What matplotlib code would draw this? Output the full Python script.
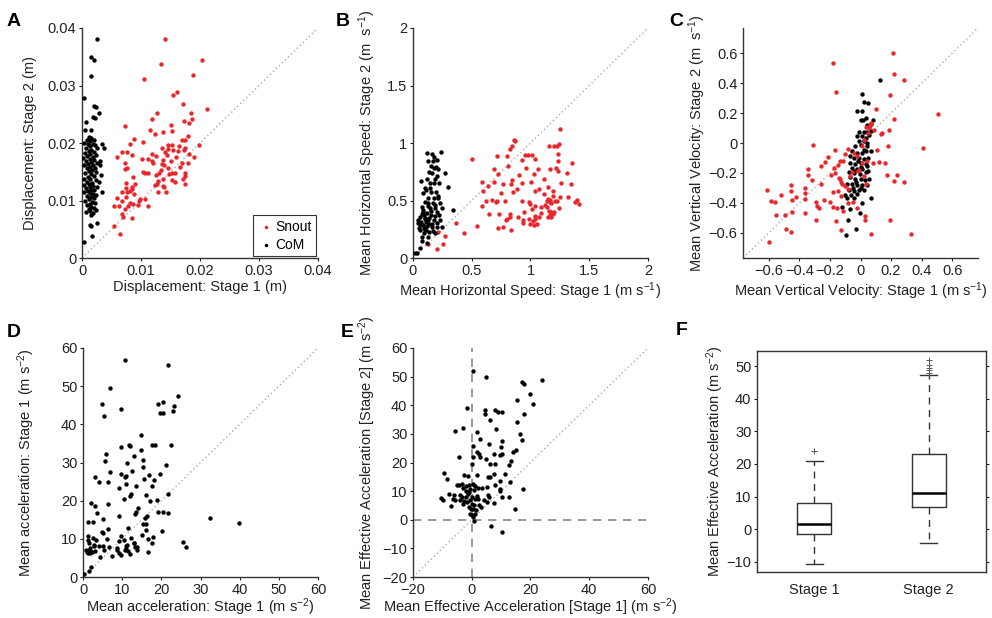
import numpy as np
import matplotlib
matplotlib.use("Agg")
import matplotlib.pyplot as plt

plt.rcParams['font.family'] = ['Liberation Sans', 'DejaVu Sans']
plt.rcParams['mathtext.fontset'] = 'custom'
plt.rcParams['mathtext.rm'] = 'Liberation Sans'
plt.rcParams['mathtext.it'] = 'Liberation Sans'
plt.rcParams['axes.unicode_minus'] = True

RED = '#e8262b'
INK = '#222222'

# --- A: displacement (m) ---
snout_disp1 = [0.0141, 0.0134, 0.0203, 0.0105, 0.0188, 0.0161, 0.0154, 0.0212, 0.0171, 0.0127,
               0.0184, 0.0119, 0.0187, 0.0173, 0.0181, 0.0073, 0.0151, 0.0116, 0.0152, 0.0123,
               0.0138, 0.0180, 0.0170, 0.0175, 0.0088, 0.0104, 0.0199, 0.0081, 0.0145, 0.0153,
               0.0165, 0.0135, 0.0175, 0.0059, 0.0067, 0.0077, 0.0084, 0.0118, 0.0125, 0.0141,
               0.0144, 0.0154, 0.0162, 0.0173, 0.0181, 0.0189, 0.0073, 0.0101, 0.0111, 0.0120,
               0.0137, 0.0150, 0.0170, 0.0179, 0.0073, 0.0077, 0.0136, 0.0104, 0.0111, 0.0131,
               0.0139, 0.0146, 0.0152, 0.0158, 0.0174, 0.0175, 0.0086, 0.0125, 0.0148, 0.0171,
               0.0152, 0.0129, 0.0127, 0.0124, 0.0157, 0.0175, 0.0137, 0.0139, 0.0137, 0.0075,
               0.0089, 0.0075, 0.0085, 0.0085, 0.0068, 0.0077, 0.0081, 0.0088, 0.0129, 0.0142,
               0.0060, 0.0074, 0.0099, 0.0107, 0.0067, 0.0097, 0.0081, 0.0086, 0.0055, 0.0063,
               0.0095, 0.0111, 0.0078, 0.0073, 0.0068, 0.0069, 0.0085, 0.0055, 0.0064, 0.0146,
               0.0160, 0.0133, 0.0118, 0.0107, 0.0166]
snout_disp2 = [0.0380, 0.0338, 0.0344, 0.0311, 0.0318, 0.0289, 0.0284, 0.0260, 0.0267, 0.0252,
               0.0253, 0.0241, 0.0241, 0.0238, 0.0235, 0.0230, 0.0231, 0.0223, 0.0221, 0.0216,
               0.0219, 0.0213, 0.0206, 0.0206, 0.0207, 0.0201, 0.0197, 0.0198, 0.0197, 0.0196,
               0.0194, 0.0192, 0.0191, 0.0176, 0.0184, 0.0184, 0.0179, 0.0181, 0.0177, 0.0184,
               0.0180, 0.0187, 0.0186, 0.0188, 0.0181, 0.0175, 0.0165, 0.0173, 0.0172, 0.0166,
               0.0170, 0.0169, 0.0165, 0.0165, 0.0155, 0.0156, 0.0163, 0.0149, 0.0147, 0.0148,
               0.0161, 0.0156, 0.0148, 0.0148, 0.0148, 0.0143, 0.0141, 0.0144, 0.0146, 0.0138,
               0.0135, 0.0134, 0.0129, 0.0127, 0.0132, 0.0129, 0.0125, 0.0123, 0.0137, 0.0131,
               0.0129, 0.0122, 0.0124, 0.0120, 0.0115, 0.0114, 0.0117, 0.0112, 0.0115, 0.0115,
               0.0104, 0.0106, 0.0103, 0.0103, 0.0100, 0.0099, 0.0096, 0.0094, 0.0090, 0.0090,
               0.0093, 0.0090, 0.0090, 0.0085, 0.0077, 0.0071, 0.0070, 0.0055, 0.0042, 0.0189,
               0.0176, 0.0153, 0.0169, 0.0148, 0.0159]
com_disp1 = [0.0025, 0.0015, 0.0020, 0.0016, 0.0003, 0.0021, 0.0024, 0.0029, 0.0019, 0.0022,
             0.0006, 0.0005, 0.0015, 0.0034, 0.0037, 0.0030, 0.0031, 0.0032, 0.0029, 0.0034,
             0.0025, 0.0013, 0.0016, 0.0017, 0.0003,
             0.0012, 0.0016, 0.0020, 0.0008, 0.0014, 0.0004, 0.0010, 0.0018, 0.0022, 0.0013,
             0.0007, 0.0025, 0.0016, 0.0011, 0.0020, 0.0005, 0.0014, 0.0023, 0.0009, 0.0018,
             0.0002, 0.0013, 0.0021, 0.0007, 0.0016, 0.0026, 0.0010, 0.0019, 0.0004, 0.0014,
             0.0022, 0.0008, 0.0017, 0.0012, 0.0024, 0.0005, 0.0015, 0.0020, 0.0010, 0.0003,
             0.0014, 0.0023, 0.0008, 0.0017, 0.0011, 0.0004, 0.0019, 0.0014, 0.0026, 0.0007,
             0.0016, 0.0021, 0.0010, 0.0003, 0.0013, 0.0018, 0.0024, 0.0008, 0.0015, 0.0020,
             0.0011, 0.0005, 0.0017, 0.0022, 0.0013, 0.0009, 0.0016, 0.0020, 0.0011, 0.0024,
             0.0014, 0.0007, 0.0019, 0.0015]
com_disp2 = [0.0381, 0.0350, 0.0345, 0.0316, 0.0279, 0.0265, 0.0263, 0.0253, 0.0245, 0.0244,
             0.0236, 0.0222, 0.0222, 0.0198, 0.0192, 0.0169, 0.0162, 0.0145, 0.0133, 0.0115,
             0.0061, 0.0057, 0.0055, 0.0039, 0.0027,
             0.0210, 0.0208, 0.0206, 0.0205, 0.0203, 0.0200, 0.0198, 0.0199, 0.0196, 0.0194,
             0.0192, 0.0191, 0.0188, 0.0186, 0.0184, 0.0183, 0.0181, 0.0179, 0.0178, 0.0176,
             0.0174, 0.0173, 0.0171, 0.0169, 0.0167, 0.0166, 0.0164, 0.0162, 0.0161, 0.0159,
             0.0157, 0.0156, 0.0153, 0.0151, 0.0149, 0.0148, 0.0146, 0.0143, 0.0141, 0.0138,
             0.0137, 0.0135, 0.0133, 0.0131, 0.0129, 0.0127, 0.0126, 0.0124, 0.0123, 0.0121,
             0.0119, 0.0118, 0.0116, 0.0115, 0.0113, 0.0111, 0.0110, 0.0108, 0.0106, 0.0104,
             0.0102, 0.0100, 0.0098, 0.0096, 0.0094, 0.0092, 0.0089, 0.0087, 0.0085, 0.0084,
             0.0082, 0.0080, 0.0078, 0.0075]

# --- B: horizontal speed (m/s) ---
snout_hs1 = [1.248, 0.863, 0.871, 1.239, 1.222, 1.199, 0.826, 0.840, 0.713, 0.804, 0.951, 0.976,
             1.010, 1.236, 1.160, 0.506, 1.236, 0.925, 1.041, 1.355, 0.806, 0.687, 0.959, 1.064,
             1.163, 1.214, 1.231, 1.310, 0.900, 1.030, 0.724, 1.117, 1.001, 0.846, 0.585, 0.687,
             0.931, 1.259, 0.766, 0.835, 0.639, 0.594, 1.349, 1.146, 1.075, 1.194, 0.747, 0.849,
             0.886, 1.035, 1.112, 1.318, 1.253, 1.188, 1.168, 0.670, 0.719, 0.707, 0.781, 0.625,
             0.931, 0.985, 0.996, 1.151, 1.165, 1.171, 1.137, 1.205, 1.225, 1.398, 1.412, 1.375,
             1.038, 0.591, 1.245, 1.092, 1.123, 1.137, 0.736, 0.829, 0.948, 1.013, 1.092, 1.157,
             1.174, 1.188, 1.199, 1.168, 1.148, 1.177, 1.041, 1.072, 1.038, 0.648, 0.891, 0.829,
             0.801, 0.789, 0.939, 0.985, 1.018, 1.055, 0.999, 1.030, 0.934, 0.724, 0.770, 0.837,
             0.368, 0.549, 0.433, 0.269, 0.252, 0.130, 0.204, 0.212]
snout_hs2 = [1.125, 1.029, 1.015, 0.994, 0.971, 0.971, 0.951, 0.971, 0.884, 0.884, 0.899, 0.899,
             0.899, 0.904, 0.971, 0.861, 0.841, 0.855, 0.861, 0.826, 0.797, 0.774, 0.786, 0.774,
             0.774, 0.783, 0.754, 0.739, 0.725, 0.733, 0.731, 0.690, 0.658, 0.681, 0.658, 0.664,
             0.652, 0.652, 0.646, 0.644, 0.623, 0.580, 0.646, 0.620, 0.597, 0.583, 0.568, 0.577,
             0.597, 0.580, 0.554, 0.533, 0.533, 0.539, 0.507, 0.507, 0.499, 0.484, 0.499, 0.499,
             0.496, 0.484, 0.473, 0.510, 0.490, 0.478, 0.493, 0.496, 0.493, 0.507, 0.470, 0.487,
             0.455, 0.449, 0.435, 0.441, 0.464, 0.444, 0.383, 0.383, 0.400, 0.423, 0.389, 0.406,
             0.397, 0.383, 0.397, 0.377, 0.359, 0.357, 0.342, 0.357, 0.365, 0.383, 0.359, 0.357,
             0.336, 0.328, 0.333, 0.339, 0.319, 0.299, 0.299, 0.284, 0.304, 0.264, 0.272, 0.241,
             0.301, 0.281, 0.215, 0.194, 0.122, 0.122, 0.081, 0.226]
com_hs1 = [0.122, 0.162, 0.179, 0.235, 0.201, 0.130, 0.150, 0.176, 0.216, 0.133, 0.162, 0.272,
           0.201, 0.122, 0.145, 0.182, 0.065, 0.224, 0.295, 0.102, 0.156, 0.196, 0.088, 0.216,
           0.125, 0.179, 0.102, 0.130, 0.173, 0.230, 0.074, 0.145, 0.187, 0.244, 0.088, 0.116,
           0.150, 0.201, 0.224, 0.338, 0.060, 0.102, 0.130, 0.179, 0.230, 0.045, 0.082, 0.116,
           0.159, 0.201, 0.244, 0.060, 0.102, 0.139, 0.094, 0.187, 0.074, 0.130, 0.079, 0.116,
           0.060, 0.037, 0.014, 0.042, 0.070, 0.095, 0.110, 0.138, 0.165, 0.186, 0.083, 0.125,
           0.157, 0.063, 0.090, 0.115, 0.173, 0.208, 0.050, 0.140, 0.102, 0.075, 0.190, 0.215,
           0.145, 0.186, 0.110, 0.168, 0.200]
com_hs2 = [0.910, 0.904, 0.881, 0.925, 0.852, 0.846, 0.800, 0.783, 0.771, 0.751, 0.736, 0.736,
           0.713, 0.684, 0.655, 0.655, 0.673, 0.649, 0.620, 0.606, 0.577, 0.577, 0.562, 0.539,
           0.519, 0.519, 0.490, 0.475, 0.475, 0.475, 0.446, 0.432, 0.432, 0.432, 0.403, 0.388,
           0.374, 0.403, 0.374, 0.417, 0.359, 0.345, 0.330, 0.330, 0.330, 0.301, 0.287, 0.278,
           0.267, 0.267, 0.267, 0.244, 0.244, 0.229, 0.215, 0.220, 0.186, 0.180, 0.151, 0.128,
           0.084, 0.041, 0.046, 0.331, 0.316, 0.372, 0.310, 0.350, 0.300, 0.362, 0.420, 0.455,
           0.410, 0.287, 0.262, 0.246, 0.239, 0.303, 0.264, 0.292, 0.340, 0.380, 0.460, 0.520,
           0.610, 0.690, 0.590, 0.840, 0.790]

# --- C: vertical velocity (m/s) ---
snout_vv1 = [0.213, -0.182, 0.220, 0.288, -0.160, 0.193, 0.508, 0.099, 0.220, 0.189, 0.143, 0.132,
             0.088, 0.409, 0.178, 0.105, -0.312, -0.167, -0.213, -0.084, -0.099, 0.119, 0.081,
             0.158, -0.116, -0.136, -0.147, -0.233, -0.257, -0.171, -0.341, -0.341, -0.316,
             -0.257, -0.193, -0.165, -0.138, -0.127, -0.103, -0.081, -0.015, 0.026, 0.033, 0.176,
             0.240, 0.220, 0.288, -0.611, -0.589, -0.563, -0.521, -0.554, -0.492, -0.453, -0.453,
             -0.446, -0.446, -0.420, -0.365, -0.363, -0.363, -0.363, -0.488, -0.455, -0.602,
             -0.292, -0.286, -0.273, -0.292, -0.237, -0.200, -0.182, -0.147, -0.178, -0.152,
             -0.130, -0.116, -0.158, -0.130, -0.084, -0.048, -0.024, 0.031, 0.031, 0.066, 0.193,
             0.332, -0.007, 0.007, 0.022, 0.048, 0.055, 0.066, 0.037, 0.011, -0.022, -0.040,
             -0.055, -0.066, -0.132, -0.120, 0.045, 0.060]
snout_vv2 = [0.600, 0.537, 0.463, 0.425, 0.343, 0.323, 0.194, 0.231, 0.159, 0.087, 0.065, 0.059,
             0.087, -0.035, -0.022, -0.046, -0.013, -0.044, -0.092, -0.037, -0.076, -0.127,
             -0.135, -0.131, -0.120, -0.122, -0.148, -0.127, -0.157, -0.164, -0.177, -0.212,
             -0.247, -0.273, -0.214, -0.201, -0.233, -0.262, -0.288, -0.310, -0.185, -0.223,
             -0.273, -0.214, -0.214, -0.253, -0.262, -0.312, -0.386, -0.393, -0.345, -0.480,
             -0.480, -0.284, -0.321, -0.382, -0.463, -0.360, -0.301, -0.338, -0.373, -0.471,
             -0.578, -0.596, -0.661, -0.393, -0.419, -0.436, -0.517, -0.380, -0.393, -0.327,
             -0.323, -0.430, -0.436, -0.356, -0.454, -0.524, -0.583, -0.404, -0.397, -0.432,
             -0.491, -0.517, -0.611, -0.513, -0.607, -0.181, -0.131, 0.022, 0.066, 0.098, 0.131,
             0.109, -0.022, -0.087, -0.070, -0.197, -0.218, -0.240, -0.275, -0.120, 0.120]
com_vv1 = [0.125, 0.011, 0.022, 0.048, -0.020, 0.007, 0.000, 0.015, 0.079, 0.044, 0.055, 0.066,
           -0.007, 0.022, 0.044, 0.066, -0.022, 0.011, 0.033, 0.055, -0.011, 0.022, 0.000, -0.033,
           0.044, 0.070, -0.055, -0.022, 0.011, 0.033, -0.070, -0.044, -0.011, 0.022, 0.051,
           -0.066, -0.033, 0.000, 0.033, -0.055, -0.022, 0.011, 0.044, -0.077, -0.044, -0.004,
           0.033, 0.048, -0.066, -0.033, 0.000, 0.029, 0.055, -0.088, -0.055, -0.022, 0.011,
           0.044, -0.077, -0.044, -0.009, 0.022, -0.099, -0.062, -0.026, -0.088, -0.040, 0.066,
           -0.121, -0.068, 0.009, -0.004, -0.079, -0.029, -0.092, -0.015, 0.005, -0.040, 0.020,
           0.040, -0.030, 0.000, 0.035, -0.050]
com_vv2 = [0.421, 0.328, 0.277, 0.269, 0.212, 0.216, 0.157, 0.153, 0.153, 0.120, 0.109, 0.127,
           0.076, 0.076, 0.076, 0.083, 0.044, 0.044, 0.033, 0.055, 0.011, 0.011, -0.011, -0.022,
           -0.022, -0.055, -0.055, -0.066, -0.066, -0.055, -0.087, -0.098, -0.098, -0.109,
           -0.098, -0.131, -0.142, -0.131, -0.142, -0.164, -0.175, -0.175, -0.153, -0.197,
           -0.201, -0.207, -0.197, -0.186, -0.229, -0.240, -0.240, -0.251, -0.240, -0.273,
           -0.273, -0.284, -0.284, -0.284, -0.317, -0.323, -0.317, -0.317, -0.349, -0.349,
           -0.343, -0.371, -0.371, -0.371, -0.426, -0.441, -0.400, -0.469, -0.513, -0.574,
           -0.616, -0.120, -0.160, -0.190, -0.050, 0.000, -0.260, -0.300, 0.170, -0.300]

# --- D: mean acceleration (m/s^2) ---
acc_stage1 = [10.8, 21.6, 7.0, 24.2, 4.9, 5.3, 9.7, 19.1, 20.3, 19.6, 20.5, 23.3, 23.0, 22.4,
              14.9, 17.6, 18.3, 11.7, 11.9, 9.7, 13.0, 15.4, 15.2, 14.9, 5.9, 5.5, 11.2, 7.0,
              3.0, 4.2, 6.5, 9.8, 10.8, 11.0, 12.5, 16.8, 15.6, 18.2, 21.2, 19.6, 13.6, 9.3,
              10.9, 12.3, 12.1, 17.7, 16.0, 10.4, 18.8, 17.2, 21.6, 2.0, 3.1, 6.5, 3.6, 14.0,
              13.6, 13.2, 9.3, 15.8, 16.3, 19.2, 20.5, 21.7, 32.5, 39.8, 2.5, 1.3, 5.1, 15.3,
              16.0, 15.1, 16.0, 16.6, 17.7, 17.8, 20.1, 25.5, 26.4, 16.7, 12.3, 12.9, 11.5, 13.1,
              13.7, 9.8, 10.4, 9.2, 11.1, 11.0, 10.9, 13.9, 13.3, 6.5, 4.8, 5.1, 6.0, 1.2, 1.2,
              1.4, 2.6, 3.3, 2.7, 2.7, 1.7, 4.2, 5.1, 5.4, 6.7, 7.3, 4.4, 8.7, 8.8, 9.2, 9.7,
              10.6, 11.6, 12.0, 0.8, 1.3, 1.0, 1.3, 1.7, 1.9, 2.3, 3.1, 2.0, 1.4, 0.3]
acc_stage2 = [56.8, 55.6, 49.5, 47.4, 45.2, 42.3, 43.9, 45.4, 45.8, 43.0, 43.0, 44.8, 43.4, 34.5,
              37.1, 34.7, 34.7, 34.6, 34.2, 34.1, 31.7, 30.6, 28.8, 33.4, 32.1, 30.4, 29.9, 27.4,
              26.1, 24.8, 25.0, 27.0, 26.1, 26.5, 27.8, 26.7, 25.6, 25.4, 29.4, 27.0, 23.8, 23.3,
              24.4, 21.8, 21.3, 23.8, 21.5, 20.4, 20.3, 19.9, 21.8, 19.4, 18.7, 19.2, 16.9, 18.2,
              17.0, 16.4, 16.0, 15.5, 15.9, 17.0, 17.0, 16.7, 15.5, 14.1, 14.5, 14.4, 15.3, 14.0,
              14.0, 10.9, 12.2, 10.0, 9.0, 10.6, 12.1, 9.3, 7.9, 6.6, 10.1, 9.0, 12.8, 8.8,
              7.9, 10.8, 9.7, 9.4, 8.5, 7.3, 8.1, 7.0, 7.9, 12.5, 11.8, 11.5, 10.0, 10.7, 9.8,
              8.9, 10.2, 9.8, 8.5, 8.0, 7.6, 8.1, 8.2, 7.0, 7.9, 5.5, 5.2, 7.6, 7.0, 6.3, 5.7,
              7.0, 6.9, 6.1, 7.2, 6.8, 6.5, 6.3, 6.4, 6.8, 6.6, 6.8, 2.6, 1.5, 0.9]

# --- E: mean effective acceleration (m/s^2) ---
eff_stage1 = [0.3, 5.0, 23.9, 17.2, 17.8, 19.8, 20.8, 15.3, -1.5, 4.4, 4.5, 7.8, 8.8, 10.4, 17.8,
              6.3, 15.4, -5.7, -3.1, 1.7, 8.4, 16.4, 2.9, 6.0, 10.4, 17.0, 10.0, 0.3, 15.2, 13.9,
              1.9, 2.5, 7.5, 9.6, 10.3, -4.2, 0.3, 2.8, 4.9, 13.3, 0.1, 6.1, 7.8, 12.7, 11.4,
              -2.6, -1.4, 1.7, 5.7, 6.3, 7.5, 9.7, 13.1, -9.6, -8.4, -5.1, -4.2, -3.2, -1.8, -0.8,
              -0.6, 0.6, 1.2, 2.3, 3.5, 5.1, 7.8, 9.5, 9.5, 12.7, 10.2, 17.5, 14.8, -10.4, -9.8,
              -7.6, -6.2, -6.5, -5.7, -7.0, -4.0, -3.4, -4.0, -3.1, -2.0, -1.7, -2.5, -1.1, -0.6,
              0.2, 1.1, 0.1, 0.8, 1.7, -0.8, -0.2, 0.6, 1.4, 1.2, -0.7, 0.0, 0.5, 0.7, 2.3, 2.5,
              3.1, 4.2, 5.1, 5.4, 6.0, 7.6, 6.7, 10.3, -2.0, -0.9, -2.8, 0.9]
eff_stage2 = [51.8, 49.7, 48.9, 48.1, 47.5, 44.0, 40.3, 41.7, 38.9, 38.4, 36.8, 38.2, 37.5, 37.5,
              37.0, 34.7, 34.3, 31.0, 32.1, 30.5, 31.8, 30.0, 28.1, 26.5, 27.5, 27.7, 25.3, 25.8,
              24.2, 23.5, 23.5, 22.8, 23.0, 22.5, 22.8, 21.9, 21.8, 21.9, 21.3, 20.5, 19.4, 19.4,
              19.4, 19.0, 16.1, 15.7, 15.3, 15.5, 15.1, 15.0, 16.1, 13.7, 13.2, 16.3, 14.3, 12.0,
              12.2, 12.6, 11.8, 12.1, 10.9, 12.6, 11.9, 11.1, 11.1, 11.6, 12.2, 10.7, 10.1, 7.9,
              7.8, 10.8, 3.6, 7.6, 6.8, 9.1, 8.5, 7.3, 6.8, 4.7, 8.7, 7.9, 6.8, 5.4, 7.9, 6.3,
              6.4, 9.1, 7.0, 7.9, 7.3, 5.6, 5.1, 8.4, 4.3, 3.8, 3.6, 3.3, 2.1, 1.9, 1.5, 0.9,
              -0.5, 7.3, 5.0, 4.4, 6.8, 6.3, 8.8, 7.9, 5.9, -2.2, -4.3, 10.2, 9.7, 11.2, 10.3]

# --- F: box summaries of effective acceleration ---
box_labels = ['Stage 1', 'Stage 2']
box_q1 = [-1.5, 6.8]
box_med = [1.7, 11.2]
box_q3 = [8.0, 23.0]
box_whislo = [-10.5, -4.2]
box_whishi = [20.8, 47.2]
box_fliers = [[24.0], [48.0, 48.7, 49.3, 50.3, 51.8]]


fig = plt.figure(figsize=(9.92, 6.18), dpi=100)


def style_scatter_axes(ax, lim, ticks, ticklabels, yticks=None, yticklabels=None):
    ax.set_xlim(lim)
    ax.set_ylim(lim)
    ax.set_xticks(ticks)
    ax.set_xticklabels(ticklabels)
    ax.set_yticks(ticks if yticks is None else yticks)
    ax.set_yticklabels(ticklabels if yticklabels is None else yticklabels)
    for side in ['top', 'right']:
        ax.spines[side].set_visible(False)
    for side in ['left', 'bottom']:
        ax.spines[side].set_color('#333333')
        ax.spines[side].set_linewidth(1.0)
    ax.tick_params(labelsize=10.5, colors=INK, length=2, width=0.8, pad=2)
    ax.plot(lim, lim, linestyle=(0, (1, 2)), color='#aaaaaa', lw=1.0, zorder=1)


def label_axes(ax, xl, yl, ylab_x, xpad=2):
    ax.set_xlabel(xl, fontsize=10.5, color=INK, labelpad=xpad)
    ax.set_ylabel(yl, fontsize=10.5, color=INK)
    ax.yaxis.set_label_coords(ylab_x, 0.5)


ms = 10

# A
axA = fig.add_axes([0.0827, 0.5825, 0.2379, 0.3722])
style_scatter_axes(axA, (0, 0.04), [0, 0.01, 0.02, 0.03, 0.04], ['0', '0.01', '0.02', '0.03', '0.04'])
axA.scatter(snout_disp1, snout_disp2, s=ms, color=RED, lw=0, label='Snout', zorder=3)
axA.scatter(com_disp1, com_disp2, s=ms, color='black', lw=0, label='CoM', zorder=3)
label_axes(axA, 'Displacement: Stage 1 (m)', 'Displacement: Stage 2 (m)', -0.19)
leg = axA.legend(loc='lower right', fontsize=10, frameon=True, fancybox=False,
                 handletextpad=0.1, borderpad=0.3, labelspacing=0.3, markerscale=0.8,
                 handlelength=1.2, borderaxespad=0.15)
leg.get_frame().set_edgecolor('black')
leg.get_frame().set_linewidth(0.8)

# B
axB = fig.add_axes([0.4163, 0.5825, 0.2369, 0.3722])
style_scatter_axes(axB, (0, 2), [0, 0.5, 1, 1.5, 2], ['0', '0.5', '1', '1.5', '2'])
axB.scatter(snout_hs1, snout_hs2, s=ms, color=RED, lw=0, zorder=3)
axB.scatter(com_hs1, com_hs2, s=ms, color='black', lw=0, zorder=3)
label_axes(axB, 'Mean Horizontal Speed: Stage 1 (m s$^{-1}$)',
           'Mean Horizontal Speed: Stage 2 (m  s$^{-1}$)', -0.15)

# C
axC = fig.add_axes([0.749, 0.5825, 0.2369, 0.3722])
cticks = [-0.6, -0.4, -0.2, 0, 0.2, 0.4, 0.6]
clabels = ['\u22120.6', '\u22120.4', '\u22120.2', '0', '0.2', '0.4', '0.6']
style_scatter_axes(axC, (-0.77, 0.77), cticks, clabels)
axC.scatter(com_vv1, com_vv2, s=ms, color='black', lw=0, zorder=3)
axC.scatter(snout_vv1, snout_vv2, s=ms, color=RED, lw=0, zorder=4)
label_axes(axC, 'Mean Vertical Velocity: Stage 1 (m s$^{-1}$)',
           'Mean Vertical Velocity: Stage 2 (m  s$^{-1}$)', -0.15)

# D
axD = fig.add_axes([0.0837, 0.0663, 0.2369, 0.3706])
dticks = [0, 10, 20, 30, 40, 50, 60]
style_scatter_axes(axD, (0, 60), dticks, [str(t) for t in dticks])
axD.scatter(acc_stage1, acc_stage2, s=ms, color='black', lw=0, zorder=3)
label_axes(axD, 'Mean acceleration: Stage 1 (m s$^{-2}$)',
           'Mean acceleration: Stage 1 (m s$^{-2}$)', -0.195, xpad=0)

# E
axE = fig.add_axes([0.4163, 0.0663, 0.2369, 0.3706])
ex = [-20, 0, 20, 40, 60]
ey = [-20, -10, 0, 10, 20, 30, 40, 50, 60]
style_scatter_axes(axE, (-20, 60), ex, ['\u221220', '0', '20', '40', '60'],
                   ey, ['\u221220', '\u221210', '0', '10', '20', '30', '40', '50', '60'])
axE.axvline(0, color='#888888', lw=1.2, linestyle=(0, (5, 4)), zorder=2)
axE.axhline(0, color='#888888', lw=1.2, linestyle=(0, (5, 4)), zorder=2)
axE.scatter(eff_stage1, eff_stage2, s=ms, color='black', lw=0, zorder=3)
label_axes(axE, 'Mean Effective Acceleration [Stage 1] (m s$^{-2}$)',
           'Mean Effective Acceleration [Stage 2] (m s$^{-2}$)', -0.148, xpad=0)

# F
axF = fig.add_axes([0.7631, 0.0744, 0.2308, 0.3576])
stats = []
for i in range(2):
    stats.append(dict(label=box_labels[i], q1=box_q1[i], med=box_med[i], q3=box_q3[i],
                      whislo=box_whislo[i], whishi=box_whishi[i], fliers=box_fliers[i]))
axF.bxp(stats, positions=[1, 2], widths=0.3, showfliers=True,
        boxprops=dict(color='#333333', lw=1.0),
        medianprops=dict(color='black', lw=1.8),
        whiskerprops=dict(color='#333333', lw=1.0, linestyle=(0, (5, 4))),
        capprops=dict(color='#333333', lw=1.0),
        capwidths=0.15,
        flierprops=dict(marker='+', markeredgecolor='#555555', markersize=5, markeredgewidth=0.7))
axF.set_xlim(0.5, 2.5)
axF.set_ylim(-13.1, 54.6)
axF.set_yticks([-10, 0, 10, 20, 30, 40, 50])
axF.set_yticklabels(['\u221210', '0', '10', '20', '30', '40', '50'])
for sp in axF.spines.values():
    sp.set_color('#333333')
    sp.set_linewidth(1.0)
axF.tick_params(labelsize=10.5, colors=INK, length=2, width=0.8, pad=2, right=True)
axF.tick_params(axis='x', length=0, pad=8)
axF.set_ylabel('Mean Effective Acceleration (m s$^{-2}$)', fontsize=10.5, color=INK)
axF.yaxis.set_label_coords(-0.135, 0.5)

# panel letters
for letter, x, y in [('A', 0.007, 0.958), ('B', 0.338, 0.958), ('C', 0.675, 0.958),
                     ('D', 0.007, 0.455), ('E', 0.344, 0.455), ('F', 0.681, 0.458)]:
    fig.text(x, y, letter, fontsize=14, fontweight='bold', color='black')

fig.savefig('out.png', dpi=100)
